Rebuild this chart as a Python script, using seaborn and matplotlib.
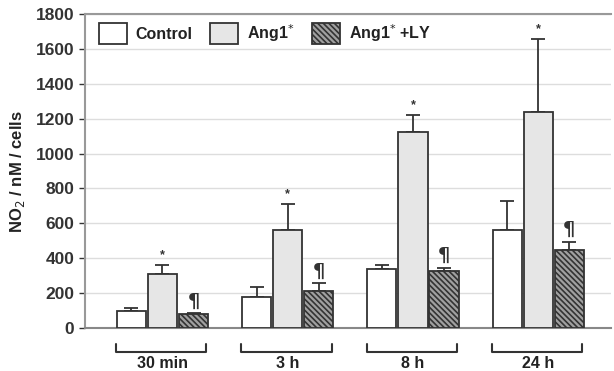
import numpy as np
import pandas as pd
import seaborn as sns
import matplotlib.pyplot as plt

times = ["30 min", "3 h", "8 h", "24 h"]
groups = ["Control", "Ang1$^{*}$", "Ang1$^{*}$ +LY"]
control = [95, 180, 340, 562]
control_err = [20, 55, 20, 166]
ang1 = [310, 562, 1125, 1240]
ang1_err = [50, 147, 94, 415]
ang1_ly = [80, 214, 327, 447]
ang1_ly_err = [5, 42, 19, 48]
star_marks = ["", "*", "\u00b6"]

sns.set_style("white")
plt.rcParams["font.family"] = ["Liberation Sans", "DejaVu Sans"]
plt.rcParams["hatch.linewidth"] = 1.2

df = pd.DataFrame({
    "time": times * 3,
    "group": [groups[0]] * 4 + [groups[1]] * 4 + [groups[2]] * 4,
    "value": control + ang1 + ang1_ly,
})
errs = [control_err, ang1_err, ang1_ly_err]
vals = [control, ang1, ang1_ly]
HATCH = "\\\\\\\\\\\\"

fig = plt.figure(figsize=(6.14, 3.71), dpi=100)
ax = fig.add_axes([0.138, 0.116, 0.857, 0.846])

sns.barplot(data=df, x="time", y="value", hue="group", order=times,
            hue_order=groups, palette=["white", "#e6e6e6", "#a0a0a0"],
            width=0.745, gap=0.06, errorbar=None, edgecolor="#333333",
            linewidth=1.3, ax=ax, zorder=3)

# bars come in hue order, 4 per group
for k in range(3):
    for i in range(4):
        p = ax.patches[k * 4 + i]
        xc = p.get_x() + p.get_width() / 2
        if k == 2:
            p.set_hatch(HATCH)
        top = vals[k][i]
        e = errs[k][i]
        ax.errorbar(xc, top, yerr=[[0], [e]], color="#333333", capsize=5,
                    elinewidth=1.3, capthick=1.3, zorder=2)
        if star_marks[k]:
            if k == 1:
                ax.text(xc, top + e + 25, "*", ha="center", va="bottom",
                        fontsize=9, fontweight="bold", color="#333333")
            else:
                ax.text(xc, top + e + 15, "\u00b6", ha="center", va="bottom",
                        fontsize=14, fontweight="bold", color="#333333",
                        family=["DejaVu Sans"])

ax.set_ylim(0, 1800)
ax.set_xlim(-0.62, 3.58)
ax.set_yticks(range(0, 1801, 200))
ax.yaxis.grid(True, color="#dddddd", linewidth=1)
ax.set_axisbelow(True)
ax.tick_params(axis="y", labelsize=12.5, colors="#333333", length=4, left=True, width=1)
for lab in ax.get_yticklabels():
    lab.set_fontweight("bold")
ax.set_xticks([])
ax.set_xlabel("")
ax.set_ylabel("NO$_2$ / nM / cells", fontsize=12, fontweight="bold", labelpad=6)
ax.yaxis.label.set_color("#222222")
for s in ["left", "top", "bottom"]:
    ax.spines[s].set_color("#999999")
    ax.spines[s].set_linewidth(1.5)
ax.spines["bottom"].set_color("#888888")
ax.spines["right"].set_visible(False)

# brackets under each time group
tr = ax.get_xaxis_transform()
for i, t in enumerate(times):
    x0, x1 = i - 0.37, i + 0.35
    ax.plot([x0, x0, x1, x1], [-0.05, -0.075, -0.075, -0.05], color="#333333",
            lw=1.5, transform=tr, clip_on=False)
    ax.text(i, -0.09, t, transform=tr, ha="center", va="top", fontsize=11.5,
            fontweight="bold", color="#222222")

leg = ax.legend(loc="upper left", ncol=3, frameon=False, fontsize=11.5,
                handlelength=1.75, handleheight=1.7, columnspacing=1.1,
                handletextpad=0.55, borderaxespad=0.1,
                bbox_to_anchor=(0.012, 1.0))
leg.legend_handles[2].set_hatch(HATCH)
for txt in leg.get_texts():
    txt.set_fontweight("bold")
    txt.set_color("#222222")

fig.savefig("out.png", dpi=100)
